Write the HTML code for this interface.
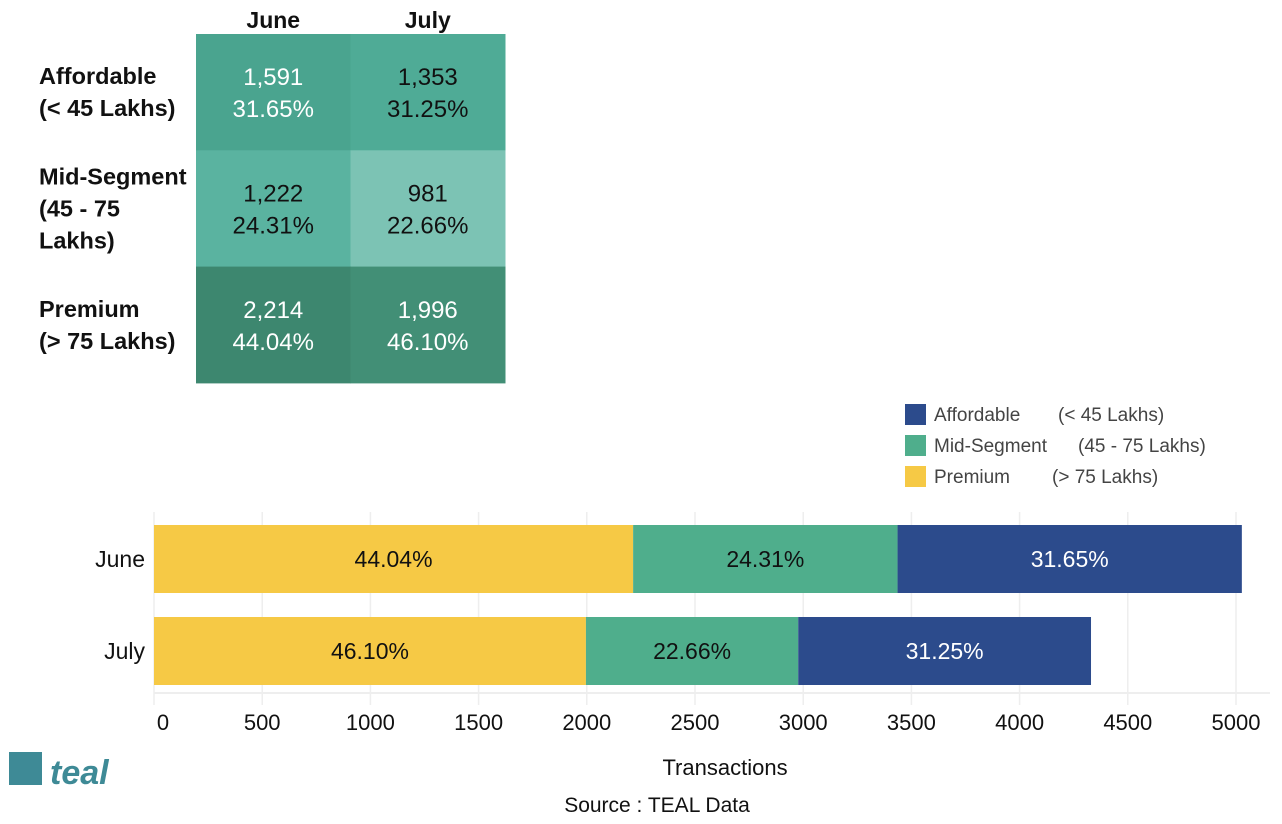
<!DOCTYPE html>
<html><head><meta charset="utf-8"><style>
html,body{margin:0;padding:0;background:#fff;}
svg{display:block;font-family:"Liberation Sans","DejaVu Sans",sans-serif;}
</style></head><body>
<svg id="c" width="1282" height="824" viewBox="0 0 1282 824" xmlns="http://www.w3.org/2000/svg">
<rect width="1282" height="824" fill="#fff"/>
<g id="heat"></g>
<g id="legend"></g>
<g id="bars"></g>
<g>
<rect x="9" y="752" width="33" height="33" fill="#3e8a96"/>
<text x="50" y="784" font-size="34" font-weight="bold" fill="#3e8a96" font-style="italic">teal</text>
</g>
<text x="657" y="812" text-anchor="middle" font-size="21" fill="#111">Source : TEAL Data</text>
</svg>
<script>
const months = ["June","July"];
const segments = ["Premium","Mid-Segment","Affordable"];
const premium = [2214,1996];
const midSegment = [1222,981];
const affordable = [1591,1353];
const premiumPct = ["44.04%","46.10%"];
const midPct = ["24.31%","22.66%"];
const affPct = ["31.65%","31.25%"];
const xTicks = [0,500,1000,1500,2000,2500,3000,3500,4000,4500,5000];
const heatRows = ["Affordable","Mid-Segment","Premium"];
const heatLabels = [["Affordable","(< 45 Lakhs)"],["Mid-Segment","(45 - 75","Lakhs)"],["Premium","(> 75 Lakhs)"]];
const heatValues = [["1,591","1,353"],["1,222","981"],["2,214","1,996"]];
const heatPct = [["31.65%","31.25%"],["24.31%","22.66%"],["44.04%","46.10%"]];
const heatColors = [["#4aa48f","#4fab96"],["#5ab3a0","#7cc3b4"],["#3d876f","#428f76"]];
const heatText = [["#fff","#111"],["#111","#111"],["#fff","#fff"]];

const NS="http://www.w3.org/2000/svg";
function mk(tag,attrs,parent,txt){const e=document.createElementNS(NS,tag);for(const k in attrs)e.setAttribute(k,attrs[k]);if(txt!==undefined)e.textContent=txt;parent.appendChild(e);return e;}

const heat=document.getElementById('heat');
const hx0=196,cw=154.5,hy0=34,rh=116.3;
months.forEach((m,j)=>{const t=mk('text',{x:hx0+cw*j+cw/2,y:28,'text-anchor':'middle','font-size':23,'font-weight':'bold',fill:'#111'},heat,m);

});
heatRows.forEach((r,i)=>{
  const lines=heatLabels[i];const lh=32;const cy=hy0+rh*i+rh/2;const start=cy-(lines.length-1)*lh/2+8;
  const lg=mk('g',{},heat);
  
  
  lines.forEach((l,k)=>mk('text',{x:39,y:start+k*lh,'font-size':23.5,'font-weight':'bold',fill:'#111'},lg,l));
  months.forEach((m,j)=>{
    const x=hx0+cw*j,y=hy0+rh*i;
    const c=mk('rect',{x:x,y:y,width:cw+0.5,height:rh+0.5,fill:heatColors[i][j]},heat);
    
    
    mk('text',{x:x+cw/2,y:y+rh/2-7,'text-anchor':'middle','font-size':24,fill:heatText[i][j]},heat,heatValues[i][j]);
    mk('text',{x:x+cw/2,y:y+rh/2+25,'text-anchor':'middle','font-size':24,fill:heatText[i][j]},heat,heatPct[i][j]);
  });
});

const leg=document.getElementById('legend');
const legItems=[["Affordable","(< 45 Lakhs)","#2c4b8c",1058],["Mid-Segment","(45 - 75 Lakhs)","#4fae8c",1078],["Premium","(> 75 Lakhs)","#f6c945",1052]];
legItems.forEach((it,i)=>{const g=mk('g',{},leg);
  
  
  const y=404+i*31;
  mk('rect',{x:905,y:y,width:21,height:21,fill:it[2]},g);
  mk('text',{x:934,y:y+17,'font-size':19,fill:'#444'},g,it[0]);
  mk('text',{x:it[3],y:y+17,'font-size':19,fill:'#444'},g,it[1]);
});

const bars=document.getElementById('bars');
const X0=154,pxPer=1082/5000;const xs=v=>X0+v*pxPer;
const rowY=[525,617],bh=68;
xTicks.forEach(t=>{mk('line',{x1:xs(t),x2:xs(t),y1:512,y2:705,stroke:'#eee','stroke-width':1.5},bars);
  const tl=mk('text',{x:xs(t)+(t===0?9:0),y:730,'text-anchor':'middle','font-size':22,fill:'#111'},bars,String(t));
  
  });
mk('line',{x1:X0,x2:1270,y1:693,y2:693,stroke:'#eee','stroke-width':2},bars);
const series=[[premium,premiumPct,"#f6c945","#111","premium"],[midSegment,midPct,"#4fae8c","#111","mid-segment"],[affordable,affPct,"#2c4b8c","#fff","affordable"]];
months.forEach((m,i)=>{
  const lab=mk('text',{x:145,y:rowY[i]+bh/2+8,'text-anchor':'end','font-size':23,fill:'#111'},bars,m);
  
  
  let acc=0;
  series.forEach(s=>{const v=s[0][i];const x1=xs(acc),x2=xs(acc+v);
    const r=mk('rect',{x:x1,y:rowY[i],width:x2-x1,height:bh,fill:s[2]},bars);
    
    
    mk('text',{x:(x1+x2)/2,y:rowY[i]+bh/2+8,'text-anchor':'middle','font-size':23,fill:s[3]},bars,s[1][i]);
    acc+=v;});
});
const xt=mk('text',{x:725,y:775,'text-anchor':'middle','font-size':22,fill:'#111'},bars,'Transactions');


</script>
</body></html>
